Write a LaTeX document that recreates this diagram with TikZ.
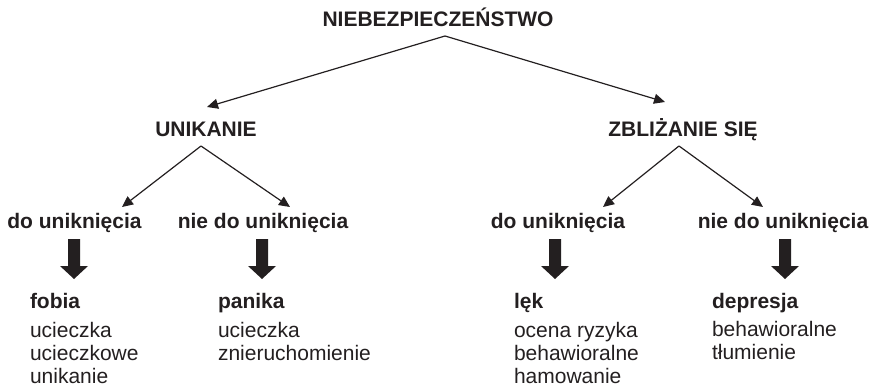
\documentclass[tikz,border=0pt]{standalone}
\usepackage{fontspec}
\setmainfont{Liberation Sans}
\usetikzlibrary{arrows.meta}
\definecolor{ink}{HTML}{231F20}
\begin{document}
\begin{tikzpicture}[x=1pt,y=-1pt,
  every node/.style={inner sep=0pt,outer sep=0pt,text=ink},
  hd/.style={font=\fontsize{21}{24}\selectfont\bfseries,anchor=base},
  ttl/.style={font=\fontsize{21}{24}\selectfont\bfseries,anchor=base west},
  txt/.style={font=\fontsize{21}{24}\selectfont,anchor=base west},
  conn/.style={draw=ink,line width=1.2pt,-{Triangle[length=11pt,width=10pt]}},
  thick/.style={fill=ink}]
\useasboundingbox (0,0) rectangle (874,387);

% level 1
\node[hd] (n0) at (438,27) {NIEBEZPIECZEŃSTWO};
% level 2
\node[hd] (u) at (206,137) {UNIKANIE};
\node[hd] (z) at (683,137) {ZBLIŻANIE SIĘ};
% level 3
\node[hd] (u1) at (74.5,229) {do uniknięcia};
\node[hd] (u2) at (263,229) {nie do uniknięcia};
\node[hd] (z1) at (558,229) {do uniknięcia};
\node[hd] (z2) at (783,229) {nie do uniknięcia};

% apexes and tips
\coordinate (a0) at (445,36);
\coordinate (tu) at (207,107);
\coordinate (tz) at (665,102);
\coordinate (au) at (201,146);
\coordinate (tu1) at (122,207);
\coordinate (tu2) at (290,207);
\coordinate (az) at (679,146);
\coordinate (tz1) at (603,207);
\coordinate (tz2) at (763,207);

\draw[conn] (a0) -- (tu);
\draw[conn] (a0) -- (tz);
\draw[conn] (au) -- (tu1);
\draw[conn] (au) -- (tu2);
\draw[conn] (az) -- (tz1);
\draw[conn] (az) -- (tz2);

% thick down arrows
\foreach \c in {74,262,555,785}{
  \fill[thick] (\c,239) ++(-6,0) -- ++(12,0) -- ++(0,27) -- ++(8,0)
     -- ++(-14,13) -- ++(-14,-13) -- ++(8,0) -- cycle;
}

% level 4
\node[ttl] (f) at (30,308) {fobia};
\node[txt] (f1) at (30,337) {ucieczka};
\node[txt] (f2) at (30,360) {ucieczkowe};
\node[txt] (f3) at (30,383) {unikanie};

\node[ttl] (p) at (218,308) {panika};
\node[txt] (p1) at (218,337) {ucieczka};
\node[txt] (p2) at (218,360) {znieruchomienie};

\node[ttl] (l) at (514,308) {lęk};
\node[txt] (l1) at (514,337) {ocena ryzyka};
\node[txt] (l2) at (514,360) {behawioralne};
\node[txt] (l3) at (514,383) {hamowanie};

\node[ttl] (d) at (712,308) {depresja};
\node[txt] (d1) at (712,336) {behawioralne};
\node[txt] (d2) at (712,359) {tłumienie};
\end{tikzpicture}
\end{document}
